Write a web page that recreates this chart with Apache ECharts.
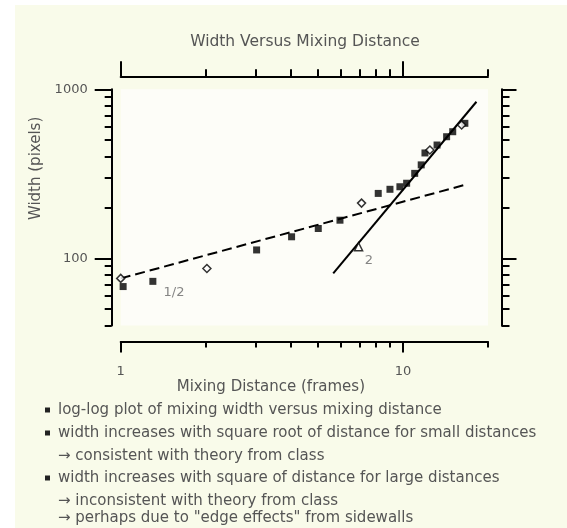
<!DOCTYPE html>
<html>
<head>
<meta charset="utf-8">
<title>Width Versus Mixing Distance</title>
<script src="https://cdn.jsdelivr.net/npm/echarts@6/dist/echarts.min.js"></script>
<style>
  html, body { margin: 0; padding: 0; background: #ffffff; }
  #chart { width: 567px; height: 528px; }
</style>
</head>
<body>
<div id="chart"></div>
<script>
// measured points: mixing distance (frames) -> width (pixels)
const filledX = [1.02, 1.3, 3.03, 4.03, 5.01, 5.98, 8.17, 8.99, 9.75, 10.3, 11.0, 11.6, 11.96, 13.2, 14.27, 15.0, 16.56];
const filledY = [68, 73, 112, 134, 150, 168, 242, 256, 265, 278, 318, 357, 420, 468, 524, 561, 629];
const openX = [1.0, 2.02, 7.13, 12.45, 16.13];
const openY = [76, 87, 212, 437, 615];
const triX = [6.96];
const triY = [117];
// fit lines, end points only
const halfLineX = [1, 17];
const halfLineY = [76, 275];
const squareLineX = [5.66, 18.2];
const squareLineY = [81.5, 844];
// slope notes
const slopeX = [1.545, 7.57];
const slopeY = [62.3, 96.4];
const slopeText = ['1/2', '2'];
// ticks
const xMajor = [1, 10];
const xMinor = [2, 3, 4, 5, 6, 7, 8, 9, 20];
const yMajor = [100, 1000];
const yMinor = [40, 50, 60, 70, 80, 90, 200, 300, 400, 500, 600, 700, 800, 900];
// text under the chart
const noteLines = [
    'log-log plot of mixing width versus mixing distance',
    'width increases with square root of distance for small distances',
    '\u2192 consistent with theory from class',
    'width increases with square of distance for large distances',
    '\u2192 inconsistent with theory from class',
    '\u2192 perhaps due to "edge effects" from sidewalls'
];

const pairs = (xs, ys) => xs.map((x, i) => [x, ys[i]]);
const FONT = 'DejaVu Sans';
const TXT = '#555';

// 坐标轴
function xAxisOf(pos, offset, ticks, len, withLine, withLabel) {
    return {
        type: 'log', min: 1, max: 20, position: pos, offset: offset,
        axisLine: { show: withLine, onZero: false, lineStyle: { color: '#000', width: 2 } },
        axisTick: { show: true, customValues: ticks, length: len, lineStyle: { color: '#000', width: 2 } },
        axisLabel: withLabel ? {
            customValues: xMajor, margin: 24, color: TXT, fontFamily: FONT, fontSize: 13,
            formatter: v => String(Math.round(v))
        } : { show: false },
        splitLine: { show: false },
        minorTick: { show: false }
    };
}
function yAxisOf(pos, offset, ticks, len, withLine, withLabel) {
    return {
        type: 'log', min: 40, max: 1000, position: pos, offset: offset,
        axisLine: { show: withLine, onZero: false, lineStyle: { color: '#000', width: 2 } },
        axisTick: { show: true, customValues: ticks, length: len, lineStyle: { color: '#000', width: 2 } },
        axisLabel: withLabel ? {
            customValues: yMajor, margin: 24, color: TXT, fontFamily: FONT, fontSize: 13,
            formatter: v => String(Math.round(v))
        } : { show: false },
        splitLine: { show: false },
        minorTick: { show: false }
    };
}

const xAxes = [
    xAxisOf('bottom', 16, xMajor, 11, true, true),
    xAxisOf('bottom', 16, xMinor, 6, false, false),
    xAxisOf('top', 13, xMajor, 15, true, false),
    xAxisOf('top', 13, xMinor, 7, false, false)
];
Object.assign(xAxes[0], {
    name: 'Mixing Distance (frames)', nameLocation: 'middle', nameGap: 31,
    nameTextStyle: { color: TXT, fontFamily: FONT, fontSize: 15, padding: [0, 67, 0, 0] }
});
const yAxes = [
    yAxisOf('left', 9, yMajor, 17, true, true),
    yAxisOf('left', 9, yMinor, 7, false, false),
    yAxisOf('right', 13.5, yMajor, 15, true, false),
    yAxisOf('right', 13.5, yMinor, 8, false, false)
];
Object.assign(yAxes[0], {
    name: 'Width (pixels)', nameLocation: 'middle', nameGap: 64,
    nameTextStyle: { color: TXT, fontFamily: FONT, fontSize: 15, padding: [0, 0, 0, 78] }
});

// 下方文字
const noteTop = [410, 433, 456, 478, 501, 518];
const graphics = [
    { type: 'rect', z: -10, silent: true, shape: { x: 15, y: 5, width: 552, height: 523 }, style: { fill: '#f9fbea' } }
];
noteLines.forEach((line, i) => {
    const arrow = line.startsWith('\u2192');
    if (!arrow) {
        graphics.push({ type: 'rect', silent: true, shape: { x: 45, y: noteTop[i] - 2.5, width: 5, height: 5 }, style: { fill: '#222' } });
    }
    graphics.push({
        type: 'text', silent: true, x: 58, y: noteTop[i],
        style: { text: line, fill: TXT, font: '15px "' + FONT + '"', verticalAlign: 'middle' }
    });
});

const chart = echarts.init(document.getElementById('chart'));
chart.setOption({
    backgroundColor: '#ffffff',
    animation: false,
    title: {
        text: 'Width Versus Mixing Distance',
        left: 300, top: 29, textAlign: 'center',
        textStyle: { color: TXT, fontFamily: FONT, fontSize: 15.5, fontWeight: 'normal' }
    },
    grid: {
        left: 120.7, right: 79, top: 89.3, bottom: 202.5,
        show: true, backgroundColor: '#fdfdf8', borderWidth: 0
    },
    xAxis: xAxes,
    yAxis: yAxes,
    graphic: graphics,
    series: [
        {
            name: 'slope 1/2', type: 'line', data: pairs(halfLineX, halfLineY),
            symbol: 'none', lineStyle: { color: '#000', width: 2, type: [10, 5] }, z: 3
        },
        {
            name: 'slope 2', type: 'line', data: pairs(squareLineX, squareLineY),
            symbol: 'none', lineStyle: { color: '#000', width: 2 }, z: 3
        },
        {
            name: 'filled', type: 'scatter', data: pairs(filledX, filledY), clip: false,
            symbol: 'rect', symbolSize: 7, itemStyle: { color: '#000' }, z: 4
        },
        {
            name: 'open', type: 'scatter', data: pairs(openX, openY), clip: false,
            symbol: 'diamond', symbolSize: 8, itemStyle: { color: '#fff', borderColor: '#000', borderWidth: 1.5 }, z: 5
        },
        {
            name: 'triangle', type: 'scatter', data: pairs(triX, triY), clip: false,
            symbol: 'triangle', symbolSize: 8, itemStyle: { color: '#fff', borderColor: '#000', borderWidth: 1.5 }, z: 5
        },
        {
            name: 'slopes', type: 'scatter', symbolSize: 0,
            data: slopeX.map((x, i) => ({ value: [x, slopeY[i]], name: slopeText[i] })),
            label: { show: true, position: 'inside', formatter: p => p.name, color: '#666', fontFamily: FONT, fontSize: 13 }
        }
    ]
});
</script>
</body>
</html>
